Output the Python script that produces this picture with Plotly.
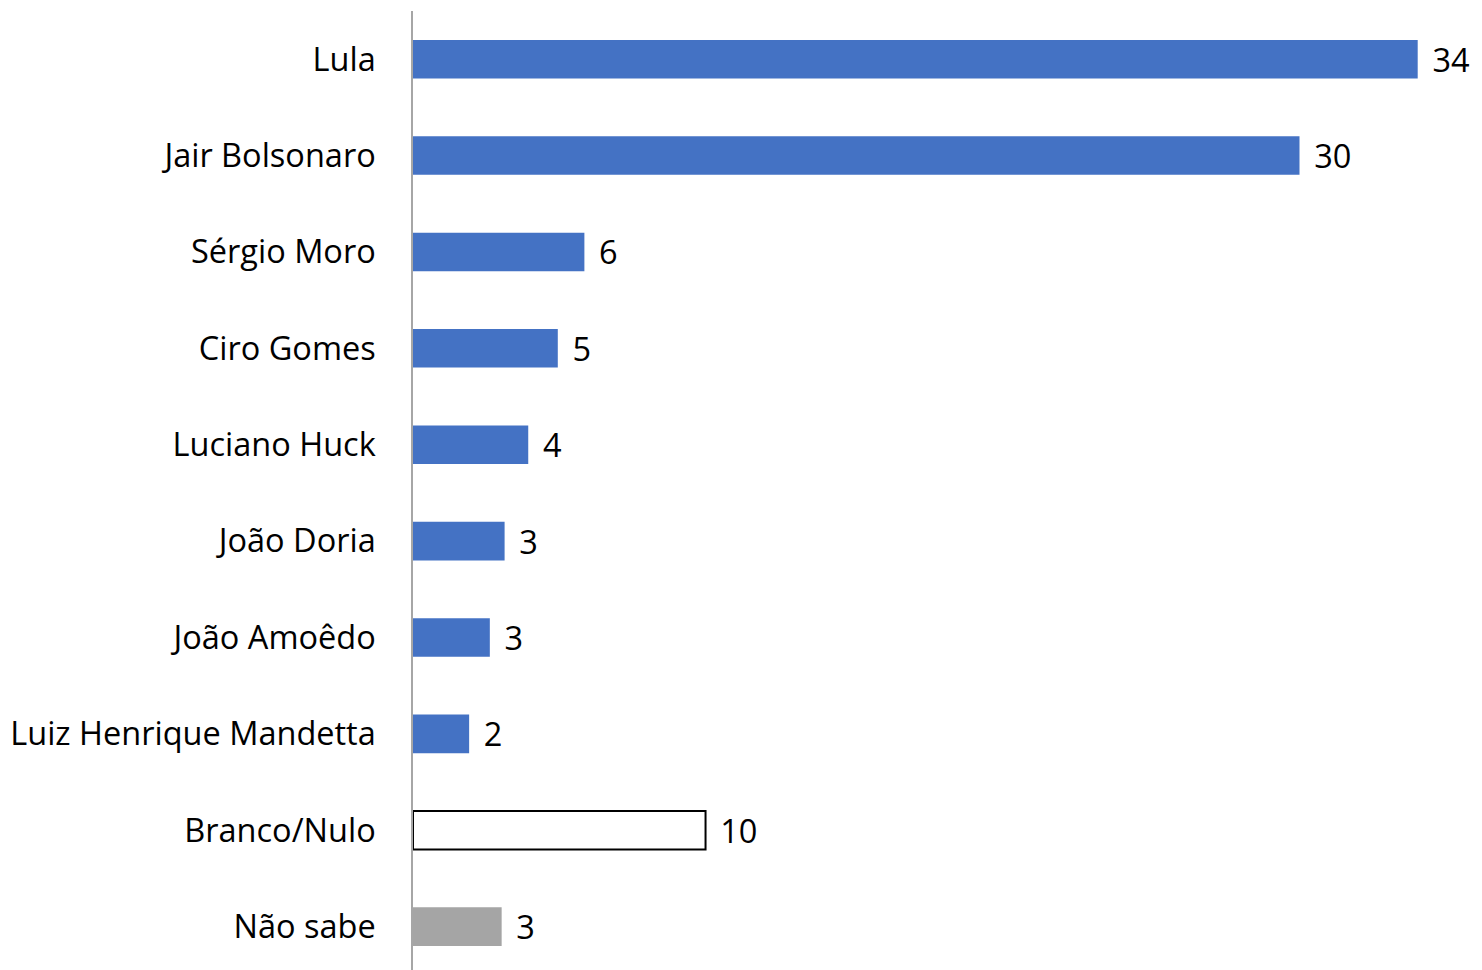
import plotly.graph_objects as go

categories = ["Lula", "Jair Bolsonaro", "Sérgio Moro", "Ciro Gomes", "Luciano Huck",
              "João Doria", "João Amoêdo", "Luiz Henrique Mandetta", "Branco/Nulo", "Não sabe"]
values = [34.0, 30.0, 5.8, 4.9, 3.9, 3.1, 2.6, 1.9, 9.9, 3.0]
labels = ["34", "30", "6", "5", "4", "3", "3", "2", "10", "3"]
fill_colors = ["#4472C4"] * 8 + ["#FFFFFF", "#A5A5A5"]
line_colors = ["#4472C4"] * 8 + ["#000000", "#A5A5A5"]
line_widths = [0] * 8 + [2, 0]

FONT = "Open Sans"
FS = 32.5

fig = go.Figure()
fig.add_trace(go.Bar(
    y=categories,
    x=values,
    orientation="h",
    marker=dict(color=fill_colors, line=dict(color=line_colors, width=line_widths)),
    text=["\u00a0\u200a" + t for t in labels],
    textposition="outside",
    constraintext="none",
    textfont=dict(family=FONT, size=FS, color="#000000"),
    cliponaxis=False,
    hoverinfo="skip",
))

fig.update_layout(
    width=1474, height=962,
    margin=dict(l=405, r=0, t=3, b=0),
    paper_bgcolor="#FFFFFF", plot_bgcolor="#FFFFFF",
    bargap=0.6,
    showlegend=False,
    font=dict(family=FONT, size=FS, color="#000000"),
    xaxis=dict(range=[0, 1069 / 29.55], visible=False, showgrid=False, zeroline=False),
    yaxis=dict(
        type="category",
        range=[9.45, -0.5],
        showgrid=False, zeroline=False,
        showline=True, linecolor="#A6A6A6", linewidth=1.5,
        ticks="", ticklabelstandoff=29,
        tickfont=dict(family=FONT, size=FS, color="#000000"),
    ),
)

fig.write_html("out.html")
